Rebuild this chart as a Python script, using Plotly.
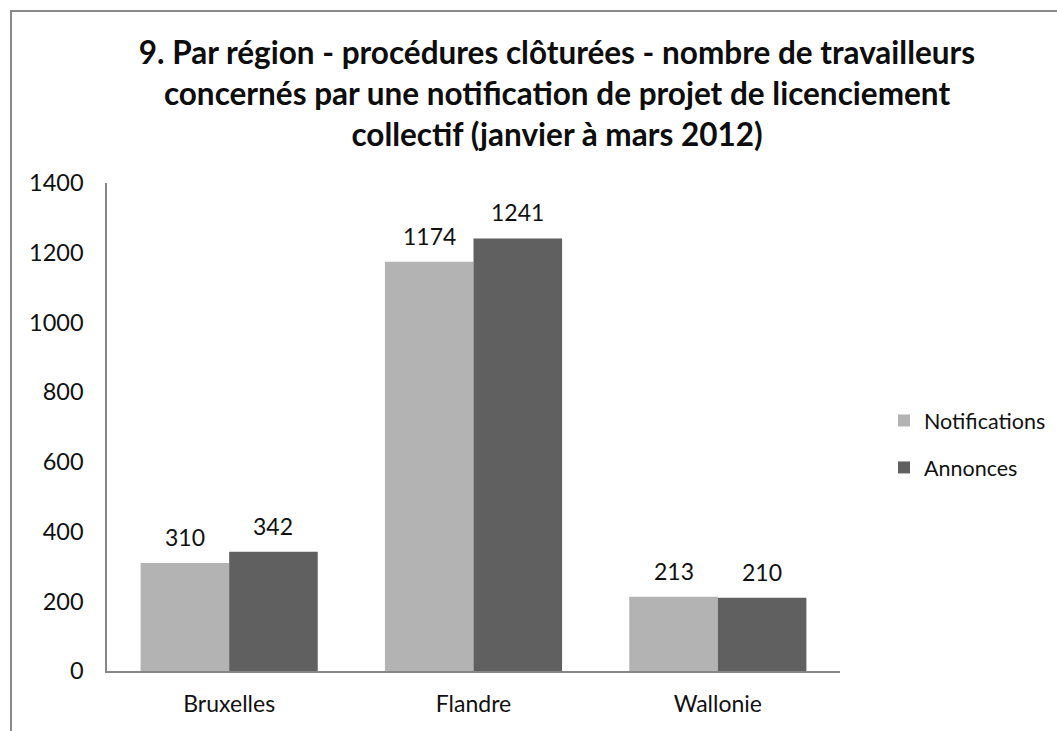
import plotly.graph_objects as go

categories = ["Bruxelles", "Flandre", "Wallonie"]
notifications = [310, 1174, 213]
annonces = [342, 1241, 210]
y_ticks = [0, 200, 400, 600, 800, 1000, 1200, 1400]

FONT = "Lato, 'Open Sans', sans-serif"
W, H = 1057, 731
L, R, T, B = 107, 217, 183, 60
pw, ph = W - L - R, H - T - B

fig = go.Figure()
fig.add_trace(go.Bar(
    name="Notifications", x=categories, y=notifications, offsetgroup="n",
    marker=dict(color="#b3b3b3", line=dict(width=0)), legendgroup="n",
))
fig.add_trace(go.Bar(
    name="Annonces", x=categories, y=annonces, offsetgroup="a",
    marker=dict(color="#606060", line=dict(width=0)), legendgroup="a",
))

# value labels above the bars, anchored to data coordinates
bar_px = pw / 3 * (1 - 0.275) / 2
annotations = []
for series, sign in ((notifications, -1), (annonces, 1)):
    for c, v in zip(categories, series):
        annotations.append(dict(x=c, y=v, xref="x", yref="y", text=str(v), showarrow=False,
                                xshift=sign * bar_px / 2, yshift=10, yanchor="bottom",
                                font=dict(size=23, family=FONT, color="#111111")))

title = ("<b>9. Par région - procédures clôturées - nombre de travailleurs<br>"
         "concernés par une notification de projet de licenciement<br>"
         "collectif (janvier à mars 2012)</b>")

bx = (11 - L) / pw
by = (H - B - 11) / ph

fig.update_layout(
    width=W, height=H,
    margin=dict(l=L, r=R, t=T, b=B, pad=0, autoexpand=False),
    paper_bgcolor="white", plot_bgcolor="white",
    font=dict(family=FONT, color="#111111"),
    barmode="group", bargap=0.275, bargroupgap=0,
    title=dict(text=title, x=557 / W, xanchor="center", y=1 - 64 / H, yanchor="middle",
               font=dict(size=31.5, family=FONT, color="#0d0d0d")),
    legend=dict(x=(884 - L) / pw, xanchor="left", y=(H - B - 444) / ph, yanchor="middle",
                font=dict(size=21.5, family=FONT, color="#111111"),
                traceorder="grouped", tracegroupgap=16, bgcolor="rgba(0,0,0,0)"),
    xaxis=dict(showline=True, linecolor="#868686", linewidth=1.5, ticks="",
               tickfont=dict(size=23, family=FONT, color="#111111"), showgrid=False,
               ticklabelstandoff=12),
    yaxis=dict(range=[0, 1400], tickvals=y_ticks, showline=True, linecolor="#868686",
               linewidth=1.5, ticks="", showgrid=False, zeroline=False,
               tickfont=dict(size=23.5, family=FONT, color="#111111"), ticklabelstandoff=17),
    showlegend=True,
    annotations=annotations,
    shapes=[dict(type="rect", xref="paper", yref="paper", x0=bx, x1=bx + 3, y0=-1, y1=by,
                 line=dict(color="#8a8a8a", width=2), fillcolor="rgba(0,0,0,0)", layer="below")],
)

fig.write_html("out.html", config={"displayModeBar": False},
               post_script="document.body.style.margin='0';")
